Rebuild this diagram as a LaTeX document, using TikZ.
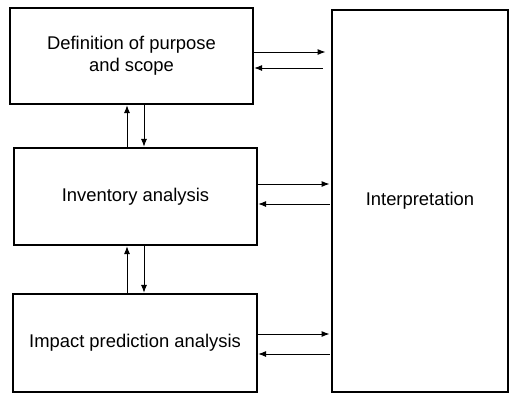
\documentclass[tikz,border=0pt]{standalone}
\usepackage{fontspec}
\setmainfont{Liberation Sans}
\usetikzlibrary{arrows.meta}

\tikzset{every picture/.style={line width=0.75pt}}
\tikzset{
  stagebox/.style={draw, line width=1.6pt, rectangle, align=center, inner sep=0pt,
    font=\fontsize{13.8}{16.5}\selectfont},
  flow/.style={-{Latex[length=6pt,width=4.5pt]}, line width=0.75pt}
}

\begin{document}
\begin{tikzpicture}[x=0.75pt,y=0.75pt,yscale=-1,xscale=1]
\useasboundingbox (0,0) rectangle (509,397);

%Stage boxes
\node [stagebox, minimum width=182.25pt, minimum height=72pt] (purpose) at (131.5,56) {Definition of purpose\\and scope};
\node [stagebox, minimum width=182.25pt, minimum height=72.75pt] (inventory) at (135.5,196.5) {Inventory analysis};
\node [stagebox, minimum width=183pt, minimum height=73.5pt] (impact) at (135,343) {Impact prediction analysis};
%Interpretation
\node [stagebox, minimum width=132pt, minimum height=286.5pt] (interp) at (420,201) {Interpretation};

%Arrows to and from interpretation
\draw [flow, shorten >=4pt] (purpose.east |- 0,52) -- (interp.west |- 0,52);
\draw [flow, shorten <=6pt] (interp.west |- 0,68) -- (purpose.east |- 0,68);
\draw [flow, shorten >=1pt] (inventory.east |- 0,184) -- (interp.west |- 0,184);
\draw [flow, shorten <=1pt] (interp.west |- 0,204) -- (inventory.east |- 0,204);
\draw [flow, shorten >=1pt] (impact.east |- 0,334) -- (interp.west |- 0,334);
\draw [flow, shorten <=1pt] (interp.west |- 0,354) -- (impact.east |- 0,354);

%Arrows between stages
\draw [flow] (inventory.north -| 127,0) -- (purpose.south -| 127,0);
\draw [flow] (purpose.south -| 144,0) -- (inventory.north -| 144,0);
\draw [flow] (impact.north -| 127,0) -- (inventory.south -| 127,0);
\draw [flow] (inventory.south -| 144,0) -- (impact.north -| 144,0);

\end{tikzpicture}
\end{document}
